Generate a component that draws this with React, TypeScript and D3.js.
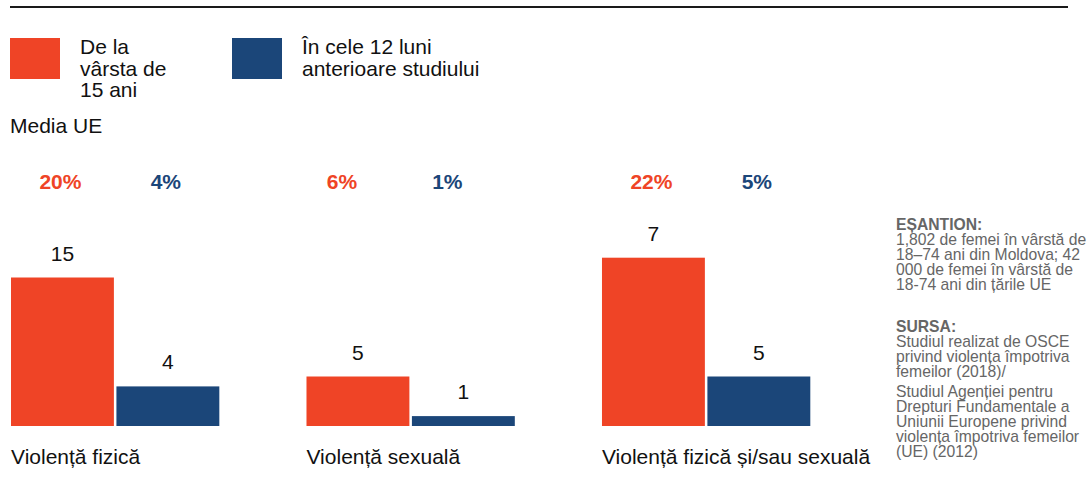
import React from "react";
import * as d3 from "d3";

const categories = ["Violență fizică", "Violență sexuală", "Violență fizică și/sau sexuală"];
const seriesNames = ["De la vârsta de 15 ani", "În cele 12 luni anterioare studiului"];
const sinceAge15 = [15, 5, 17];
const sinceAge15Labels = ["15", "5", "7"];
const last12Months = [4, 1, 5];
const last12MonthsLabels = ["4", "1", "5"];
const euSinceAge15 = ["20%", "6%", "22%"];
const euLast12Months = ["4%", "1%", "5%"];

const legendLines = [["De la", "vârsta de", "15 ani"], ["În cele 12 luni", "anterioare studiului"]];
const sampleTitle = "EȘANTION:";
const sampleLines = [
  "1,802 de femei în vârstă de",
  "18–74 ani din Moldova; 42",
  "000 de femei în vârstă de",
  "18-74 ani din țările UE",
];
const sourceTitle = "SURSA:";
const sourceLines1 = ["Studiul realizat de OSCE", "privind violența împotriva", "femeilor (2018)/"];
const sourceLines2 = [
  "Studiul Agenției pentru",
  "Drepturi Fundamentale a",
  "Uniunii Europene privind",
  "violența împotriva femeilor",
  "(UE) (2012)",
];

const RED = "#EF4426";
const BLUE = "#1B4679";
const FONT = "'Liberation Sans', Arial, Helvetica, sans-serif";
const EU_LABEL_SHIFT = [-2, -16, -2];

export default function App() {
  const W = 1091;
  const H = 490;
  const x0 = d3.scaleBand<string>().domain(categories).range([11, 810.3]).paddingInner(0.295).paddingOuter(0);
  const x1 = d3.scaleBand<string>().domain(seriesNames).range([0, x0.bandwidth()]).paddingInner(0.024);
  const y = d3.scaleLinear().domain([0, 10]).range([426, 327]);
  const color = d3.scaleOrdinal<string, string>().domain(seriesNames).range([RED, BLUE]);

  const series = [
    { name: seriesNames[0], values: sinceAge15, labels: sinceAge15Labels, eu: euSinceAge15 },
    { name: seriesNames[1], values: last12Months, labels: last12MonthsLabels, eu: euLast12Months },
  ];

  const noteX = 896;
  return (
    <svg width={W} height={H} style={{ position: "absolute", left: 0, top: 0, background: "#fff" }} fontFamily={FONT}>
      <line x1={10} x2={1068} y1={7} y2={7} stroke="#1a1a1a" strokeWidth={2} />
      {/* legend */}
      {series.map((s, i) => {
        const lx = i === 0 ? 10 : 232;
        return (
          <g key={s.name}>
            <rect x={lx} y={38} width={50} height={41} fill={color(s.name)} />
            {legendLines[i].map((t, j) => (
              <text key={j} x={lx + 70} y={54 + j * 21.5} fontSize={21} fill="#111">
                {t}
              </text>
            ))}
          </g>
        );
      })}
      <text x={10} y={133} fontSize={21} fill="#111">Media UE</text>
      {categories.map((c, ci) => (
        <g key={c} transform={`translate(${x0(c)},0)`}>
          {series.map((s) => {
            const v = s.values[ci];
            const bx = x1(s.name)!;
            const cx = bx + x1.bandwidth() / 2;
            return (
              <g key={s.name}>
                <text x={cx + EU_LABEL_SHIFT[ci]} y={189} textAnchor="middle" fontSize={21} fontWeight="bold" fill={color(s.name)}>
                  {s.eu[ci]}
                </text>
                <rect x={bx} y={y(v)} width={x1.bandwidth()} height={y(0) - y(v)} fill={color(s.name)} />
                <text x={cx} y={y(v) - 17} textAnchor="middle" fontSize={21} fill="#111">
                  {s.labels[ci]}
                </text>
              </g>
            );
          })}
          <text x={0} y={464} fontSize={21} fill="#111">{c}</text>
        </g>
      ))}
      {/* notes */}
      <g fontSize={15.7} fill="#666">
        <text x={noteX} y={230} fontWeight="bold">{sampleTitle}</text>
        {sampleLines.map((t, i) => (
          <text key={t} x={noteX} y={245 + i * 15}>{t}</text>
        ))}
        <text x={noteX} y={332} fontWeight="bold">{sourceTitle}</text>
        {sourceLines1.map((t, i) => (
          <text key={t} x={noteX} y={347 + i * 15}>{t}</text>
        ))}
        {sourceLines2.map((t, i) => (
          <text key={t} x={noteX} y={397 + i * 15}>{t}</text>
        ))}
      </g>
    </svg>
  );
}
